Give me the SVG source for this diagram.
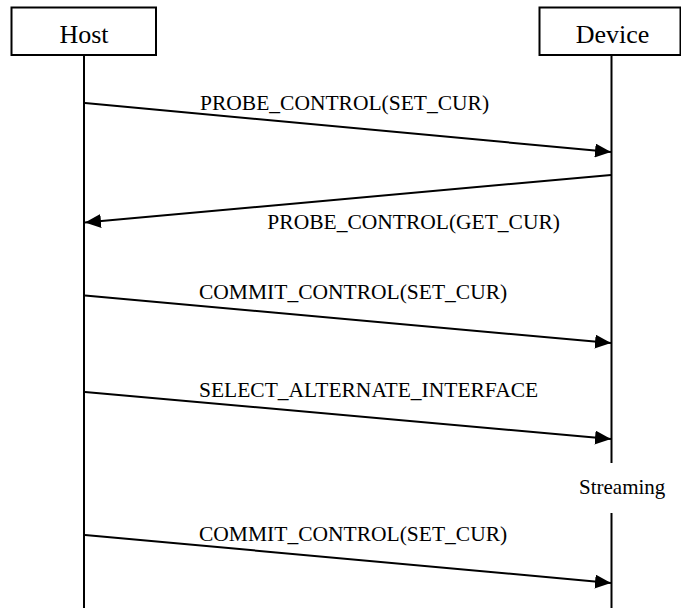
<svg xmlns="http://www.w3.org/2000/svg" width="681" height="608" viewBox="0 0 681 608">
<style>
.box{fill:#fff;stroke:#000;stroke-width:2}
.life{stroke:#000;stroke-width:2;fill:none}
.msg{stroke:#000;stroke-width:2;fill:none;marker-end:url(#ah)}
.title{font-family:"Liberation Serif","Times New Roman",serif;font-size:26px;fill:#000;text-anchor:middle}
.lbl{font-family:"Liberation Serif","Times New Roman",serif;font-size:21.5px;fill:#000}
</style>
<defs>
<marker id="ah" markerUnits="userSpaceOnUse" markerWidth="16" markerHeight="14" refX="16" refY="7" orient="auto">
<path d="M0,0 L16,7 L0,14 z" fill="#000"/>
</marker>
</defs>
<rect width="681" height="608" fill="#fff"/>
<g id="host">
<rect class="box" x="11.5" y="7.5" width="144.5" height="47.5"/>
<text class="title" x="84" y="43">Host</text>
<line class="life" x1="84" y1="55" x2="84" y2="608"/>
</g>
<g id="device">
<rect class="box" x="539.5" y="7.5" width="141" height="47.5"/>
<text class="title" x="612.5" y="43">Device</text>
<line class="life" x1="611.5" y1="55" x2="611.5" y2="463"/>
<line class="life" x1="611.5" y1="513" x2="611.5" y2="608"/>
</g>
<g id="streaming">
<text class="lbl" x="579" y="494" style="font-size:21px">Streaming</text>
</g>
<g id="connectors">
<line class="msg" x1="85" y1="103" x2="611" y2="152"/>
<line class="msg" x1="611" y1="175" x2="85" y2="222.5"/>
<line class="msg" x1="85" y1="295.5" x2="611" y2="343"/>
<line class="msg" x1="85" y1="392" x2="611" y2="439"/>
<line class="msg" x1="85" y1="535" x2="611" y2="583"/>
</g>
<g id="labels">
<text class="lbl" x="200" y="110">PROBE_CONTROL(SET_CUR)</text>
<text class="lbl" x="560" y="229" text-anchor="end">PROBE_CONTROL(GET_CUR)</text>
<text class="lbl" x="199" y="299">COMMIT_CONTROL(SET_CUR)</text>
<text class="lbl" x="199" y="397">SELECT_ALTERNATE_INTERFACE</text>
<text class="lbl" x="199" y="541">COMMIT_CONTROL(SET_CUR)</text>
</g>
</svg>
